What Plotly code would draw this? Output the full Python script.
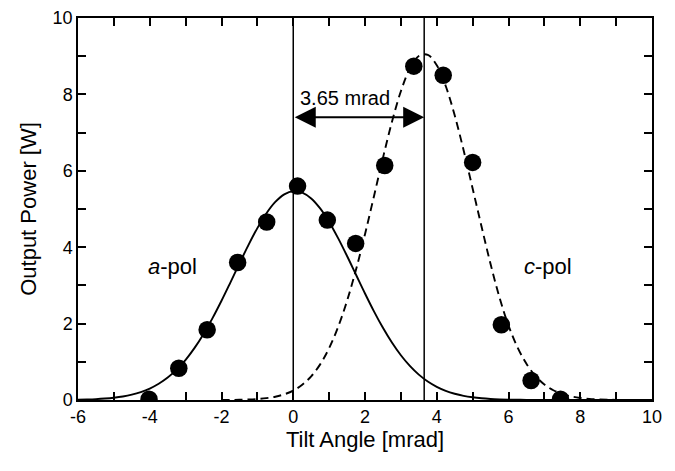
import plotly.graph_objects as go

# Measured data points (tilt angle [mrad], output power [W])
a_x = [-4.02, -3.19, -2.40, -1.55, -0.74, 0.12]
a_y = [0.02, 0.83, 1.84, 3.60, 4.66, 5.60]
c_x = [0.95, 1.74, 2.55, 3.36, 4.18, 5.00, 5.80, 6.63, 7.45]
c_y = [4.71, 4.10, 6.14, 8.74, 8.50, 6.22, 1.97, 0.51, 0.02]

# Fit curve for a-pol
a_fit_x = [-6.0, -5.75, -5.5, -5.25, -5.0, -4.75, -4.5, -4.25, -4.0, -3.75, -3.5, -3.25,
           -3.0, -2.75, -2.5, -2.25, -2.0, -1.75, -1.5, -1.25, -1.0, -0.75, -0.5, -0.25,
           0.0, 0.25, 0.5, 0.75, 1.0, 1.25, 1.5, 1.75, 2.0, 2.25, 2.5, 2.75,
           3.0, 3.25, 3.5, 3.75, 4.0, 4.25, 4.5, 4.75, 5.0, 5.25, 5.5, 5.75,
           6.0, 6.25, 6.5, 7.0, 8.0, 9.0, 10.0]
a_fit_y = [0.008, 0.014, 0.023, 0.038, 0.060, 0.092, 0.140, 0.207, 0.299, 0.424, 0.587, 0.795,
           1.053, 1.364, 1.729, 2.143, 2.598, 3.081, 3.574, 4.055, 4.500, 4.884, 5.185, 5.384,
           5.468, 5.431, 5.277, 5.015, 4.662, 4.238, 3.769, 3.278, 2.789, 2.321, 1.889, 1.504,
           1.171, 0.892, 0.664, 0.484, 0.345, 0.240, 0.164, 0.109, 0.071, 0.045, 0.028, 0.017,
           0.010, 0.006, 0.003, 0.001, 0.0, 0.0, 0.0]

# Fit curve for c-pol
c_fit_x = [-2.0, -1.75, -1.5, -1.25, -1.0, -0.75, -0.5, -0.25, 0.0, 0.25, 0.5, 0.75,
           1.0, 1.25, 1.5, 1.75, 2.0, 2.25, 2.5, 2.75, 3.0, 3.25, 3.5, 3.75,
           4.0, 4.25, 4.5, 4.75, 5.0, 5.25, 5.5, 5.75, 6.0, 6.25, 6.5, 6.75,
           7.0, 7.25, 7.5, 7.75, 8.0, 8.25, 8.5, 8.75, 9.0, 9.25, 9.5, 10.0]
c_fit_y = [0.002, 0.003, 0.007, 0.014, 0.026, 0.048, 0.086, 0.149, 0.247, 0.399, 0.620, 0.933,
           1.358, 1.910, 2.597, 3.415, 4.341, 5.335, 6.338, 7.279, 8.083, 8.677, 9.005, 9.036,
           8.765, 8.220, 7.453, 6.533, 5.536, 4.535, 3.560, 2.680, 1.950, 1.380, 0.950, 0.630,
           0.405, 0.255, 0.160, 0.094, 0.054, 0.030, 0.016, 0.008, 0.004, 0.002, 0.001, 0.0]

peak_sep = 3.65
x_ticks = [-6, -5, -4, -3, -2, -1, 0, 1, 2, 3, 4, 5, 6, 7, 8, 9, 10]
x_ticktext = ["-6", "", "-4", "", "-2", "", "0", "", "2", "", "4", "", "6", "", "8", "", "10"]
y_ticks = [0, 1, 2, 3, 4, 5, 6, 7, 8, 9, 10]
y_ticktext = ["0", "", "2", "", "4", "", "6", "", "8", "", "10"]

FONT = "Liberation Sans, Arial, Helvetica, sans-serif"

fig = go.Figure()
fig.add_trace(go.Scatter(x=a_fit_x, y=a_fit_y, mode="lines", line=dict(color="black", width=1.9, shape="spline"),
                         showlegend=False, hoverinfo="skip"))
fig.add_trace(go.Scatter(x=c_fit_x, y=c_fit_y, mode="lines",
                         line=dict(color="black", width=1.9, dash="8px,5px", shape="spline"),
                         showlegend=False, hoverinfo="skip"))
fig.add_trace(go.Scatter(x=a_x + c_x, y=a_y + c_y, mode="markers",
                         marker=dict(color="black", size=17.5, line=dict(width=0)), showlegend=False))

# vertical reference lines
for xv in [0, peak_sep]:
    fig.add_shape(type="line", xref="x", yref="y", x0=xv, x1=xv, y0=0, y1=10,
                  line=dict(color="black", width=1.5))

# double arrow
fig.add_annotation(x=peak_sep, y=7.4, ax=0, ay=7.4, xref="x", yref="y", axref="x", ayref="y",
                   text="", showarrow=True, arrowhead=2, startarrowhead=2, arrowside="end+start",
                   arrowwidth=2, arrowsize=2.1, startarrowsize=2.1, arrowcolor="black")
fig.add_annotation(x=1.43, y=7.9, xref="x", yref="y", text="3.65 mrad", showarrow=False,
                   font=dict(family=FONT, size=20, color="black"))
fig.add_annotation(x=-3.37, y=3.5, xref="x", yref="y", text="<i>a</i>-pol", showarrow=False,
                   font=dict(family=FONT, size=22, color="black"))
fig.add_annotation(x=7.1, y=3.5, xref="x", yref="y", text="<i>c</i>-pol", showarrow=False,
                   font=dict(family=FONT, size=22, color="black"))

axis_common = dict(showline=True, linecolor="black", linewidth=1.5, mirror="ticks",
                   ticks="inside", ticklen=8, tickwidth=1.5, tickcolor="black",
                   showgrid=False, zeroline=False, automargin=False,
                   tickfont=dict(family=FONT, size=18, color="black"))
fig.update_xaxes(range=[-6, 10], tickmode="array", tickvals=x_ticks, ticktext=x_ticktext,
                 title=dict(text="Tilt Angle [mrad]", font=dict(family=FONT, size=22, color="black"), standoff=5),
                 **axis_common)
fig.update_yaxes(range=[0, 10], tickmode="array", tickvals=y_ticks, ticktext=y_ticktext,
                 title=dict(text="Output Power [W]", font=dict(family=FONT, size=22, color="black"), standoff=10),
                 **axis_common)
fig.update_layout(width=675, height=471, margin=dict(l=78, r=23, t=18, b=71),
                  paper_bgcolor="white", plot_bgcolor="white", font=dict(family=FONT))
fig.write_html("out.html", config={"displayModeBar": False},
               post_script="document.body.style.margin='0';document.body.style.padding='0';")
